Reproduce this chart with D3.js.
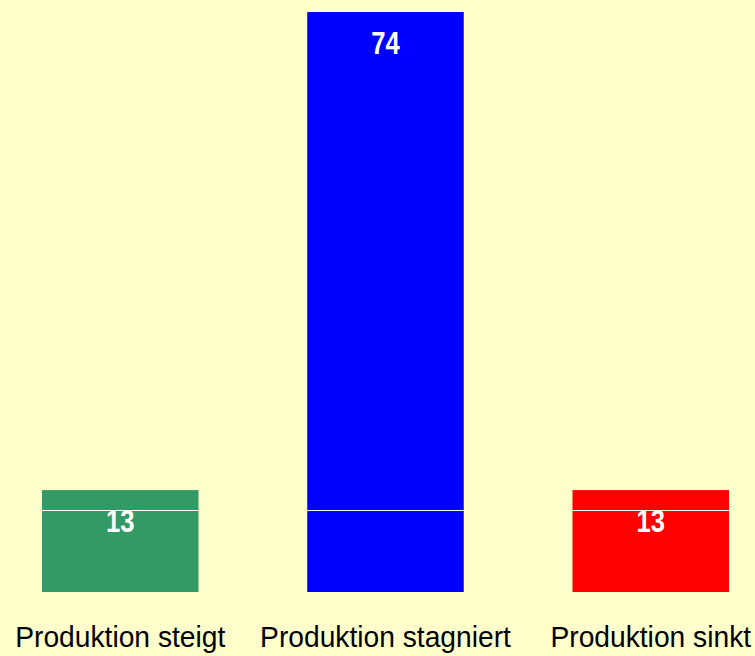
<!DOCTYPE html>
<html>
<head>
<meta charset="utf-8">
<script src="https://cdn.jsdelivr.net/npm/d3@7"></script>
<style>
  body { margin: 0; background: #FFFFCC; }
  svg { display: block; }
</style>
</head>
<body>
<div id="chart"></div>
<script>
// Chart data
var categories = ["Produktion steigt", "Produktion stagniert", "Produktion sinkt"];
var values = [13, 74, 13];
var barColors = ["#339966", "#0000FF", "#FF0000"];
var gridValues = [10.5];

var svgWidth = 755;
var svgHeight = 656;

var svg = d3.select("#chart")
  .append("svg")
  .attr("width", svgWidth)
  .attr("height", svgHeight);

svg.append("rect")
  .attr("width", svgWidth)
  .attr("height", svgHeight)
  .attr("fill", "#FFFFCC");

// Scales
var x = d3.scaleBand()
  .domain(categories)
  .range([42, 729])
  .paddingInner(0.41)
  .paddingOuter(0);

var y = d3.scaleLinear()
  .domain([0, 74])
  .range([592, 12]);

var data = categories.map((c, i) => ({ cat: c, value: values[i], color: barColors[i] }));

// Bars
svg.selectAll(".bar")
  .data(data)
  .enter()
  .append("rect")
  .attr("class", "bar")
  .attr("x", d => x(d.cat))
  .attr("y", d => y(d.value))
  .attr("width", x.bandwidth())
  .attr("height", d => y(0) - y(d.value))
  .attr("fill", d => d.color);

// White gridline, only visible over the bars
gridValues.forEach(function(g) {
  svg.selectAll(null)
    .data(data)
    .enter()
    .append("line")
    .attr("x1", d => x(d.cat))
    .attr("x2", d => x(d.cat) + x.bandwidth())
    .attr("y1", Math.round(y(g)) + 0.5)
    .attr("y2", Math.round(y(g)) + 0.5)
    .attr("stroke", "#ffffff")
    .attr("stroke-width", 1);
});

// Value labels
svg.selectAll(".val")
  .data(data)
  .enter()
  .append("text")
  .attr("class", "val")
  .attr("transform", d => `translate(${x(d.cat) + x.bandwidth() / 2}, ${y(d.value) + 42}) scale(0.8,1)`)
  .attr("text-anchor", "middle")
  .attr("font-family", "Liberation Sans, Arial, sans-serif")
  .attr("font-weight", "bold")
  .attr("font-size", 32)
  .attr("fill", "#ffffff")
  .text(d => d.value);

// Category labels
var xAxis = d3.axisBottom(x).tickSize(0).tickPadding(0);
var axisG = svg.append("g")
  .attr("transform", "translate(0, 647)")
  .call(xAxis);
axisG.select(".domain").remove();
axisG.selectAll("text")
  .attr("y", 0)
  .attr("dy", 0)
  .attr("transform", "scale(0.94,1)")
  .attr("font-family", "Liberation Sans, Arial, sans-serif")
  .attr("font-size", 30)
  .attr("fill", "#000000");
</script>
</body>
</html>
